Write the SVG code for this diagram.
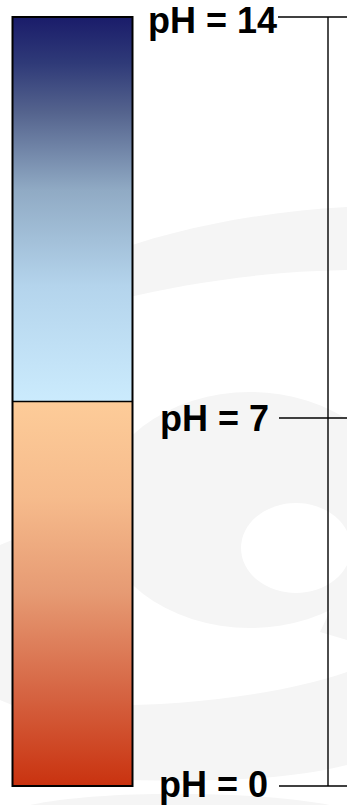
<svg xmlns="http://www.w3.org/2000/svg" width="347" height="805" viewBox="0 0 347 805">
  <style>
    .lbl { font-family: "Liberation Sans", Arial, sans-serif; font-weight: bold; font-size: 36px; fill: #000; text-anchor: end; }
    .ln { stroke: #000; stroke-width: 1.4; fill: none; }
    .wm { fill: #f5f5f5; }
  </style>
  <defs>
    <linearGradient id="gBlue" x1="0" y1="0" x2="0" y2="1">
      <stop offset="0" stop-color="#1a1c6a"/>
      <stop offset="0.12" stop-color="#2f3a78"/>
      <stop offset="0.25" stop-color="#55648e"/>
      <stop offset="0.45" stop-color="#90aac4"/>
      <stop offset="0.7" stop-color="#b4d4ec"/>
      <stop offset="1" stop-color="#cbebfd"/>
    </linearGradient>
    <linearGradient id="gRed" x1="0" y1="0" x2="0" y2="1">
      <stop offset="0" stop-color="#fdcc99"/>
      <stop offset="0.25" stop-color="#f6bb8c"/>
      <stop offset="0.5" stop-color="#e69a73"/>
      <stop offset="0.75" stop-color="#d66644"/>
      <stop offset="1" stop-color="#c9320f"/>
    </linearGradient>
  </defs>

  <rect width="347" height="805" fill="#ffffff"/>

  <g id="watermark">
    <path class="wm" d="M12,300 C80,255 200,215 347,207 L347,270 C220,272 90,300 12,335 Z"/>
    <ellipse class="wm" cx="250" cy="510" rx="152" ry="118"/>
    <ellipse cx="296" cy="548" rx="55" ry="45" fill="#ffffff"/>
    <path class="wm" d="M347,575 L347,640 L320,632 Z"/>
    <path class="wm" d="M0,545 L12,540 L12,705 L0,700 Z"/>
    <path class="wm" d="M12,700 C100,712 250,705 347,672 L347,765 C280,782 180,785 12,775 Z"/>
    <path class="wm" d="M30,805 C100,790 250,790 330,805 Z"/>
  </g>

  <g id="bar">
    <rect x="12.5" y="17" width="120" height="384.5" fill="url(#gBlue)"/>
    <rect x="12.5" y="401.5" width="120" height="384.5" fill="url(#gRed)"/>
    <rect x="12.5" y="17" width="120" height="769" fill="none" stroke="#000" stroke-width="2"/>
    <line x1="12.5" y1="401.5" x2="132.5" y2="401.5" stroke="#000" stroke-width="1.5"/>
  </g>

  <g id="connectors">
    <line class="ln" x1="328" y1="17" x2="328" y2="786"/>
    <line class="ln" x1="278" y1="17" x2="347" y2="17"/>
    <line class="ln" x1="279" y1="418" x2="347" y2="418"/>
    <line class="ln" x1="279" y1="786" x2="347" y2="786"/>
  </g>

  <g id="label-14"><text class="lbl" x="277" y="33">pH = 14</text></g>
  <g id="label-7"><text class="lbl" x="269" y="431">pH = 7</text></g>
  <g id="label-0"><text class="lbl" x="268" y="797">pH = 0</text></g>
</svg>
